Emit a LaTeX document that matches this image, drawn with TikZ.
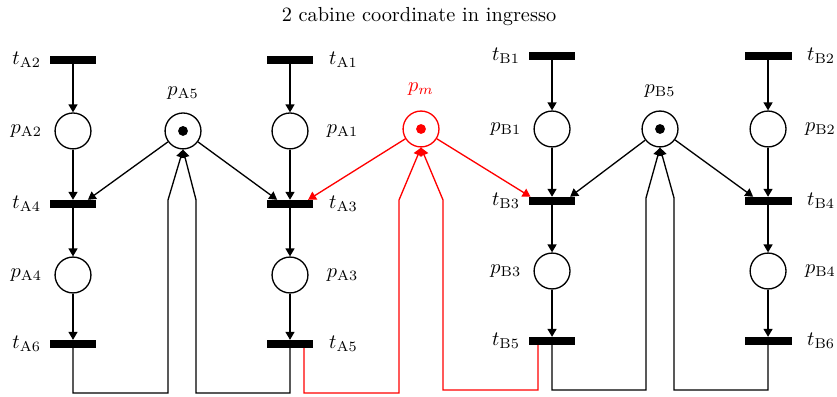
\documentclass[tikz,border=0pt]{standalone}
\usepackage{tikz}
\usetikzlibrary{arrows.meta}
\tikzset{
  pnplace/.style={circle, draw=black, line width=0.65pt, minimum size=0.62cm, inner sep=0pt},
  pnbar/.style={rectangle, fill=black, minimum width=0.81cm, minimum height=0.13cm, inner sep=0pt},
  pnarc/.style={line width=0.65pt, draw=black, -{Triangle[length=3.9pt,width=4.4pt]}},
  pntoken/.style={fill=black},
  lbltl/.style={label={[label distance=0.5pt]left:#1}},
  lbltr/.style={label={[label distance=4pt]right:#1}},
  lblpl/.style={label={[label distance=2.5pt]left:#1}},
  lblpr/.style={label={[label distance=5.5pt]right:#1}},
  lblup/.style={label={[label distance=3pt]above:#1}},
}
\begin{document}
\begin{tikzpicture}
\useasboundingbox (0,0) rectangle (14.457,6.857);
\node (title) at (7.237,6.564) {2 cabine coordinate in ingresso};
% cabina A
\node[pnbar, lbltl={$t_{\mathrm{A2}}$}] (tA2) at (1.261,5.821) {};
\node[pnbar, lbltr={$t_{\mathrm{A1}}$}] (tA1) at (5.009,5.821) {};
\node[pnplace, lblpl={$p_{\mathrm{A2}}$}] (pA2) at (1.261,4.595) {};
\node[pnplace, lblup={$p_{\mathrm{A5}}$}] (pA5) at (3.161,4.595) {};
\node[pnplace, lblpr={$p_{\mathrm{A1}}$}] (pA1) at (5.009,4.595) {};
\node[pnbar, lbltl={$t_{\mathrm{A4}}$}] (tA4) at (1.261,3.334) {};
\node[pnbar, lbltr={$t_{\mathrm{A3}}$}] (tA3) at (5.009,3.334) {};
\node[pnplace, lblpl={$p_{\mathrm{A4}}$}] (pA4) at (1.261,2.107) {};
\node[pnplace, lblpr={$p_{\mathrm{A3}}$}] (pA3) at (5.009,2.107) {};
\node[pnbar, lbltl={$t_{\mathrm{A6}}$}] (tA6) at (1.261,0.915) {};
\node[pnbar, lbltr={$t_{\mathrm{A5}}$}] (tA5) at (5.009,0.915) {};
% mutua esclusione
\node[pnplace, draw=red, label={[red,label distance=4pt]above:$p_m$}] (pm) at (7.272,4.629) {};
% cabina B
\node[pnbar, lbltl={$t_{\mathrm{B1}}$}] (tB1) at (9.535,5.890) {};
\node[pnbar, lbltr={$t_{\mathrm{B2}}$}] (tB2) at (13.266,5.890) {};
\node[pnplace, lblpl={$p_{\mathrm{B1}}$}] (pB1) at (9.535,4.629) {};
\node[pnplace, lblup={$p_{\mathrm{B5}}$}] (pB5) at (11.400,4.629) {};
\node[pnplace, lblpr={$p_{\mathrm{B2}}$}] (pB2) at (13.266,4.629) {};
\node[pnbar, lbltl={$t_{\mathrm{B3}}$}] (tB3) at (9.535,3.386) {};
\node[pnbar, lbltr={$t_{\mathrm{B4}}$}] (tB4) at (13.266,3.386) {};
\node[pnplace, lblpl={$p_{\mathrm{B3}}$}] (pB3) at (9.535,2.176) {};
\node[pnplace, lblpr={$p_{\mathrm{B4}}$}] (pB4) at (13.266,2.176) {};
\node[pnbar, lbltl={$t_{\mathrm{B5}}$}] (tB5) at (9.535,0.967) {};
\node[pnbar, lbltr={$t_{\mathrm{B6}}$}] (tB6) at (13.266,0.967) {};
% gettoni
\fill[pntoken] (pA5) circle (0.085);
\fill[pntoken] (pB5) circle (0.085);
\fill[pntoken, red] (pm) circle (0.085);
% archi A
\draw[pnarc] (tA2) -- (pA2);
\draw[pnarc] (pA2) -- (tA4);
\draw[pnarc] (tA4) -- (pA4);
\draw[pnarc] (pA4) -- (tA6);
\draw[pnarc] (tA1) -- (pA1);
\draw[pnarc] (pA1) -- (tA3);
\draw[pnarc] (tA3) -- (pA3);
\draw[pnarc] (pA3) -- (tA5);
\draw[pnarc] (pA5) -- ([xshift=-0.155cm]tA4.north east);
\draw[pnarc] (pA5) -- ([xshift=0.19cm]tA3.north west);
\draw[pnarc] (tA6) |- (2.902,0.069) -- (2.902,3.403) -- (pA5.south);
\draw[pnarc] (tA5) |- (3.386,0.069) -- (3.386,3.403) -- (pA5.south);
% archi B
\draw[pnarc] (tB1) -- (pB1);
\draw[pnarc] (pB1) -- (tB3);
\draw[pnarc] (tB3) -- (pB3);
\draw[pnarc] (pB3) -- (tB5);
\draw[pnarc] (tB2) -- (pB2);
\draw[pnarc] (pB2) -- (tB4);
\draw[pnarc] (tB4) -- (pB4);
\draw[pnarc] (pB4) -- (tB6);
\draw[pnarc] (pB5) -- ([xshift=-0.1cm]tB3.north east);
\draw[pnarc] (pB5) -- ([xshift=0.155cm]tB4.north west);
\draw[pnarc] (tB5) |- (11.158,0.121) -- (11.158,3.437) -- (pB5.south);
\draw[pnarc] (tB6) |- (11.642,0.121) -- (11.642,3.437) -- (pB5.south);
% archi p_m
\draw[pnarc, red] (pm) -- ([xshift=-0.1cm]tA3.north east);
\draw[pnarc, red] (pm) -- ([xshift=0.04cm]tB3.north west);
\draw[pnarc, red] ([xshift=0.242cm]tA5.south) |- (6.892,0.069) -- (6.892,3.403) -- (pm.south);
\draw[pnarc, red] ([xshift=-0.242cm]tB5.south) |- (7.652,0.121) -- (7.652,3.403) -- (pm.south);
\end{tikzpicture}
\end{document}
